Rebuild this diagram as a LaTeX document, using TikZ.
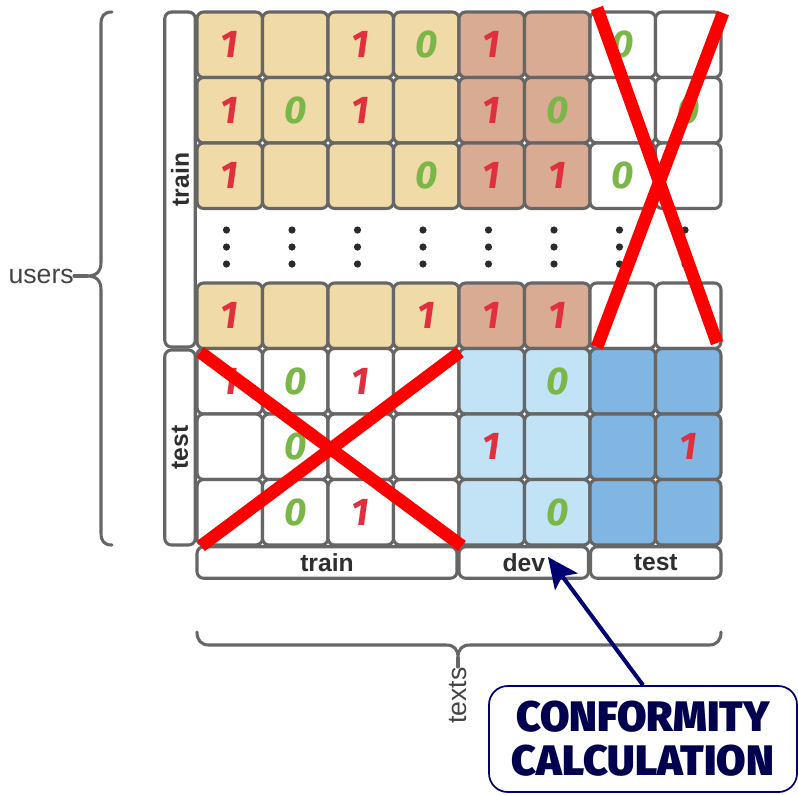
\documentclass[tikz,border=0pt]{standalone}
\usepackage{fontspec}
\setmainfont{Liberation Sans}
\newfontfamily\digitfont{Fira Sans}
\newfontfamily\heavyfont{Fira Sans Black}
\usetikzlibrary{arrows.meta}
\definecolor{cellgray}{HTML}{666666}
\definecolor{trainc}{HTML}{F0DBA8}
\definecolor{devc}{HTML}{D9AB93}
\definecolor{tdevc}{HTML}{C2E2F5}
\definecolor{ttestc}{HTML}{80B6E1}
\definecolor{onec}{HTML}{E0303E}
\definecolor{zeroc}{HTML}{7AB648}
\definecolor{navyc}{HTML}{000070}
\definecolor{navytext}{HTML}{00004F}
\definecolor{labelc}{HTML}{2E2E2E}
\definecolor{outc}{HTML}{444444}
\definecolor{bracec}{HTML}{666666}
\definecolor{dotc}{HTML}{2B2B2B}
\definecolor{xred}{HTML}{FF0000}
\begin{document}
\begin{tikzpicture}[x=0.75pt,y=-0.75pt,
  cell/.style={draw=cellgray, line width=2.3pt, rounded corners=5pt,
    minimum width=65.5*0.75pt, minimum height=65.5*0.75pt, inner sep=0pt, outer sep=0pt},
  bar/.style={draw=cellgray, line width=2.3pt, rounded corners=5pt, fill=white,
    inner sep=0pt, outer sep=0pt, text=labelc, font=\bfseries\fontsize{18.5}{20}\selectfont},
  digit/.style={inner sep=0pt, font=\digitfont\bfseries\itshape\fontsize{29}{30}\selectfont},
  one/.style={digit, text=onec},
  zero/.style={digit, text=zeroc},
  bracepath/.style={draw=bracec, line width=2.3pt, line cap=round, line join=round},
  outlabel/.style={inner sep=0pt, text=outc, font=\fontsize{20}{22}\selectfont},
  crossline/.style={draw=xred, line width=9.5pt}
]
\useasboundingbox (0,0) rectangle (798,794);

% train rows
\foreach \r/\y in {1/44.75,2/110.25,3/175.75,5/315.75}{
  \foreach \c in {1,2,3,4}{\node[cell,fill=trainc] (c\r\c) at ({164.25+65.5*\c},\y) {};}
  \foreach \c in {5,6}{\node[cell,fill=devc] (c\r\c) at ({164.25+65.5*\c},\y) {};}
  \foreach \c in {7,8}{\node[cell,fill=white] (c\r\c) at ({164.25+65.5*\c},\y) {};}
}
% test rows
\foreach \r/\y in {6/381.25,7/446.75,8/512.25}{
  \foreach \c in {1,2,3,4}{\node[cell,fill=white] (c\r\c) at ({164.25+65.5*\c},\y) {};}
  \foreach \c in {5,6}{\node[cell,fill=tdevc] (c\r\c) at ({164.25+65.5*\c},\y) {};}
  \foreach \c in {7,8}{\node[cell,fill=ttestc] (c\r\c) at ({164.25+65.5*\c},\y) {};}
}
% digits
\foreach \r/\c in {1/1,1/3,1/5,2/1,2/3,2/5,3/1,3/5,3/6,5/1,5/4,5/5,5/6,6/1,6/3,7/5,7/8,8/3}{
  \node[one] (n\r\c) at (c\r\c) {1};
}
\foreach \r/\c in {1/4,1/7,2/2,2/6,2/8,3/4,3/7,6/2,6/6,7/2,8/2,8/6}{
  \node[zero] (n\r\c) at (c\r\c) {0};
}
% vertical dots
\foreach \c in {1,...,8}{
  \foreach \y in {230,247,264}{
    \fill[dotc] ({161+65.5*\c},\y) circle (2.7pt);
  }
}
% side labels
\node[bar, rotate=90, minimum width=335*0.75pt, minimum height=30.5*0.75pt] (ltrain) at (180,179.5) {train};
\node[bar, rotate=90, minimum width=195*0.75pt, minimum height=30.5*0.75pt] (ltest) at (180,447.5) {test};
\node[bar, minimum width=260*0.75pt, minimum height=31.5*0.75pt] (btrain) at (327,562.5) {train};
\node[bar, minimum width=129.5*0.75pt, minimum height=31.5*0.75pt] (bdev) at (523.75,562.5) {dev};
\node[bar, minimum width=130.5*0.75pt, minimum height=31.5*0.75pt] (btest) at (655.75,562.5) {test};

% red crosses
\draw[crossline] (597,8) -- (717,343);
\draw[crossline] (723,13) -- (597,347);
\draw[crossline] (200,352) -- (462,546);
\draw[crossline] (460,352) -- (201,546);

% users brace
\node[outlabel, anchor=east] (users) at (74,276) {users};
\coordinate (utip) at (87,276);
\draw[bracepath] (112,12) .. controls (104,12) and (101,16) .. (101,24) -- (101,262)
  .. controls (101,271) and (97,276) .. (utip)
  .. controls (97,276) and (101,281) .. (101,290) -- (101,533)
  .. controls (101,541) and (104,545) .. (112,545);
\draw[bracepath] (users.east) -- (utip);

% texts brace
\node[outlabel, rotate=90, anchor=east] (texts) at (458,667) {texts};
\coordinate (ttip) at (458,658);
\draw[bracepath] (197,632) .. controls (197,640) and (201,645) .. (209,645) -- (446,645)
  .. controls (454,645) and (458,649) .. (ttip)
  .. controls (458,649) and (462,645) .. (470,645) -- (709,645)
  .. controls (717,645) and (721,640) .. (721,632);
\draw[bracepath] (ttip) -- (texts.east);

% conformity box
\node[draw=navyc, line width=1.3pt, rounded corners=14pt, fill=white,
  minimum width=308*0.75pt, minimum height=106*0.75pt, inner sep=0pt, align=center,
  text=navytext, font=\heavyfont\fontsize{32}{33}\selectfont] (conf) at (643,739)
  {CONFORMITY\\CALCULATION};
\coordinate (atip) at (548,557);
\draw[navyc, line width=3pt, -{Stealth[length=23pt,width=21pt,inset=5pt]}] (conf.north) -- (atip);
\end{tikzpicture}
\end{document}
